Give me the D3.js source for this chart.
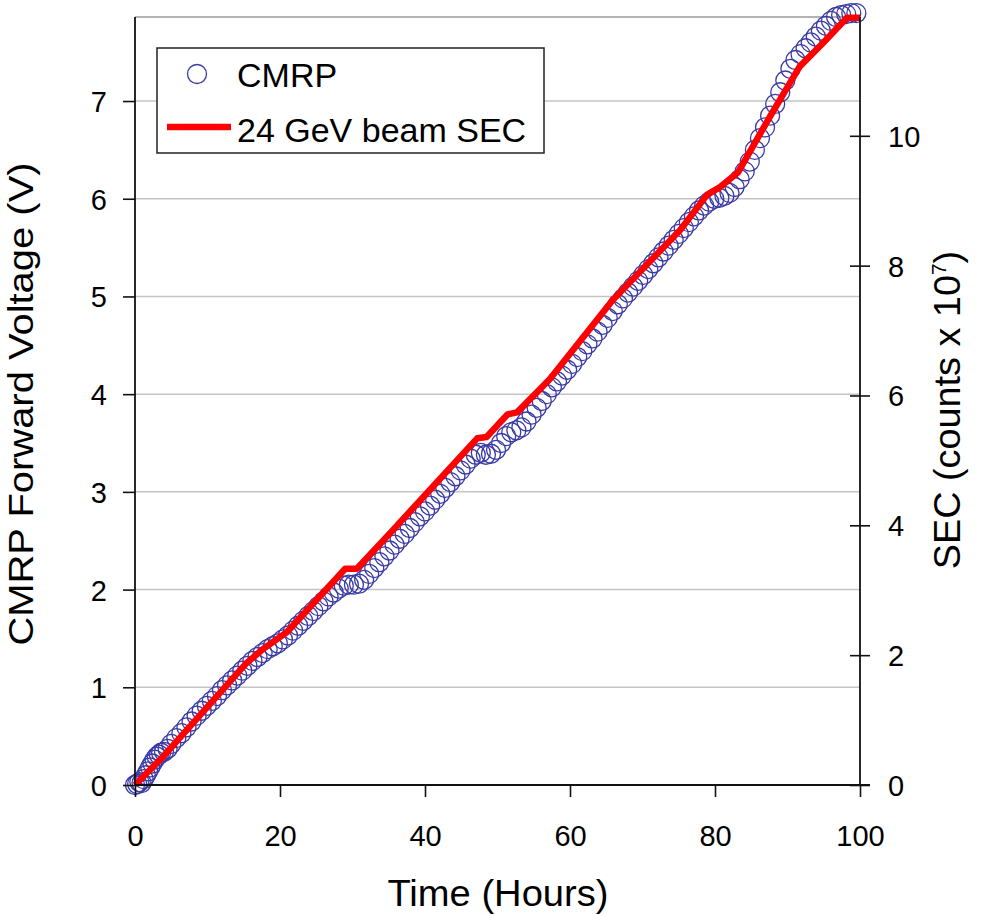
<!DOCTYPE html>
<html>
<head>
<meta charset="utf-8">
<script src="https://cdn.jsdelivr.net/npm/d3@7"></script>
<style>
  body { margin: 0; background: #fff; }
  text { font-family: "Liberation Sans", Arial, sans-serif; fill: #000; }
</style>
</head>
<body>
<div id="chart"></div>
<script>
// CMRP forward voltage (left axis)
var cmrpTime = [0.0, 0.3, 0.6, 0.9, 1.2, 1.5, 1.8, 2.1, 2.4, 2.7, 3.0, 3.3, 3.6, 4.0, 4.5, 5.0,
  5.7, 6.4, 7.1, 7.8, 8.5, 9.2, 9.9, 10.6, 11.3, 12.0, 12.7, 13.4, 14.1, 14.8, 15.5, 16.2,
  16.9, 17.6, 18.3, 19.0, 19.7, 20.4, 21.1, 21.8, 22.5, 23.2, 23.9, 24.6, 25.3, 26.0, 26.7,
  27.4, 28.1, 28.8, 29.5, 30.2, 30.9, 31.6, 32.3, 33.0, 33.7, 34.4, 35.1, 35.8, 36.5, 37.2,
  37.9, 38.6, 39.3, 40.0, 40.7, 41.4, 42.1, 42.8, 43.5, 44.2, 44.9, 45.6, 46.3, 47.0, 47.7,
  48.4, 49.1, 49.8, 50.5, 51.2, 51.9, 52.6, 53.3, 54.0, 54.7, 55.4, 56.1, 56.8, 57.5, 58.2,
  58.9, 59.6, 60.3, 61.0, 61.7, 62.4, 63.1, 63.8, 64.5, 65.2, 65.9, 66.6, 67.3, 68.0, 68.7,
  69.4, 70.1, 70.8, 71.5, 72.2, 72.9, 73.6, 74.3, 75.0, 75.7, 76.4, 77.1, 77.8, 78.5, 79.2,
  79.9, 80.6, 81.3, 82.0, 82.7, 83.4, 84.1, 84.8, 85.5, 86.2, 86.9, 87.6, 88.3, 89.0, 89.7,
  90.4, 91.1, 91.8, 92.5, 93.2, 93.9, 94.6, 95.3, 96.0, 96.7, 97.4, 98.1, 98.8, 99.5];
var cmrpVolt = [0.00, 0.01, 0.03, 0.02, 0.06, 0.10, 0.14, 0.18, 0.22, 0.26, 0.29, 0.31, 0.33, 0.34, 0.37, 0.42,
  0.48, 0.53, 0.59, 0.65, 0.71, 0.76, 0.81, 0.86, 0.91, 0.97, 1.02, 1.07, 1.12, 1.17, 1.22, 1.27,
  1.31, 1.35, 1.39, 1.42, 1.45, 1.49, 1.53, 1.58, 1.63, 1.68, 1.73, 1.78, 1.83, 1.88, 1.93,
  1.97, 2.01, 2.04, 2.05, 2.05, 2.06, 2.10, 2.16, 2.22, 2.28, 2.34, 2.40, 2.46, 2.52, 2.57,
  2.63, 2.69, 2.75, 2.80, 2.86, 2.92, 2.98, 3.04, 3.10, 3.16, 3.22, 3.28, 3.34, 3.38, 3.40,
  3.38, 3.39, 3.43, 3.50, 3.57, 3.61, 3.63, 3.66, 3.72, 3.79, 3.86, 3.93, 4.00, 4.07, 4.13,
  4.19, 4.25, 4.31, 4.38, 4.44, 4.51, 4.57, 4.64, 4.71, 4.78, 4.85, 4.92, 4.98, 5.04, 5.10,
  5.16, 5.22, 5.28, 5.34, 5.40, 5.46, 5.52, 5.58, 5.64, 5.70, 5.76, 5.82, 5.88, 5.93, 5.97,
  6.00, 6.01, 6.03, 6.06, 6.12, 6.20, 6.28, 6.38, 6.50, 6.62, 6.73, 6.85, 6.97, 7.09, 7.21,
  7.33, 7.42, 7.48, 7.54, 7.60, 7.66, 7.72, 7.77, 7.82, 7.86, 7.88, 7.89, 7.90, 7.90];

// 24 GeV beam SEC (right axis, counts x 10^7)
var secTime = [0, 3.9, 15.4, 17.5, 21, 29, 30.6, 35.6, 47.2, 48.5, 51.4, 52.7, 57.2, 65.9,
  75.2, 78.9, 80.7, 83.2, 87.6, 91.7, 94.9, 98.2, 100];
var secCounts = [0, 0.44, 1.88, 2.08, 2.36, 3.33, 3.33, 3.93, 5.34, 5.36, 5.71, 5.74, 6.25, 7.47,
  8.55, 9.09, 9.21, 9.44, 10.30, 11.07, 11.43, 11.82, 11.82];

var xTicks = [0, 20, 40, 60, 80, 100];
var leftTicks = [0, 1, 2, 3, 4, 5, 6, 7];
var rightTicks = [0, 2, 4, 6, 8, 10];

var width = 983, height = 916;
var plot = { left: 135, right: 860, top: 17, bottom: 785 };

var svg = d3.select("#chart")
  .append("svg")
  .attr("width", width)
  .attr("height", height);

var xScale = d3.scaleLinear().domain([0, 100]).range([plot.left, plot.right]);
var yLeft = d3.scaleLinear().domain([0, 7.86]).range([plot.bottom, plot.top]);
var yRight = d3.scaleLinear().domain([0, 11.83]).range([plot.bottom, plot.top]);

// gridlines
svg.append("g")
  .selectAll("line")
  .data(leftTicks.slice(1))
  .enter()
  .append("line")
  .attr("x1", plot.left)
  .attr("x2", plot.right)
  .attr("y1", function(d) { return yLeft(d); })
  .attr("y2", function(d) { return yLeft(d); })
  .attr("stroke", "#c4c4c4")
  .attr("stroke-width", 1.5);

// top border
svg.append("line")
  .attr("x1", plot.left).attr("x2", plot.right)
  .attr("y1", plot.top).attr("y2", plot.top)
  .attr("stroke", "#9a9a9a")
  .attr("stroke-width", 1.5);

// CMRP circles
var cmrp = cmrpTime.map(function(t, i) { return { t: t, v: cmrpVolt[i] }; });
svg.append("g")
  .selectAll("circle")
  .data(cmrp)
  .enter()
  .append("circle")
  .attr("cx", function(d) { return xScale(d.t); })
  .attr("cy", function(d) { return yLeft(d.v); })
  .attr("r", 9.5)
  .attr("fill", "none")
  .attr("stroke", "#3a3aa6")
  .attr("stroke-width", 1.3);

// SEC line
var sec = secTime.map(function(t, i) { return { t: t, c: secCounts[i] }; });
var line = d3.line()
  .x(function(d) { return xScale(d.t); })
  .y(function(d) { return yRight(d.c); });

svg.append("path")
  .datum(sec)
  .attr("d", line)
  .attr("fill", "none")
  .attr("stroke", "#ff0000")
  .attr("stroke-width", 6.5)
  .attr("stroke-linejoin", "round");

// Axes
var axisFont = 29;

var gx = svg.append("g")
  .attr("transform", "translate(0," + plot.bottom + ")")
  .call(d3.axisBottom(xScale).tickValues(xTicks).tickSize(12).tickSizeOuter(0));
gx.selectAll("text").attr("y", 61).attr("dy", 0).style("font-size", axisFont + "px");

var gl = svg.append("g")
  .attr("transform", "translate(" + plot.left + ",0)")
  .call(d3.axisLeft(yLeft).tickValues(leftTicks).tickSize(12).tickSizeOuter(0));
gl.selectAll("text").attr("x", -28).attr("dy", "0.36em").style("font-size", axisFont + "px");

var gr = svg.append("g")
  .attr("transform", "translate(" + plot.right + ",0)")
  .call(d3.axisRight(yRight).tickValues(rightTicks).tickSize(10).tickSizeOuter(0));
gr.selectAll(".tick line").attr("x1", -10).attr("x2", 10);
gr.selectAll("text").attr("x", 28).attr("dy", "0.36em").style("font-size", axisFont + "px");

[gx, gl, gr].forEach(function(g) {
  g.select(".domain").attr("stroke", "#111").attr("stroke-width", 1.8);
  g.selectAll(".tick line").attr("stroke", "#111").attr("stroke-width", 1.6);
  g.selectAll("text").attr("fill", "#000").attr("font-family", null);
});
gl.select(".domain").attr("d", "M0," + plot.top + "V" + plot.bottom);
gr.select(".domain").attr("d", "M0," + plot.top + "V" + plot.bottom);
gx.select(".domain").attr("d", "M" + plot.left + ",0H" + (plot.right + 10));

// Axis titles
svg.append("text")
  .attr("transform", "translate(498,906) scale(1.06,1)")
  .attr("text-anchor", "middle")
  .style("font-size", "36px")
  .text("Time (Hours)");

svg.append("text")
  .attr("transform", "translate(33,404) rotate(-90) scale(1.11,1)")
  .attr("text-anchor", "middle")
  .style("font-size", "36px")
  .text("CMRP Forward Voltage (V)");

var rt = svg.append("text")
  .attr("transform", "translate(960,410) rotate(-90) scale(1.05,1)")
  .attr("text-anchor", "middle")
  .style("font-size", "36px");
rt.append("tspan").text("SEC (counts x 10");
rt.append("tspan").attr("dy", -14).style("font-size", "20px").text("7");
rt.append("tspan").attr("dy", 14).text(")");

// Legend
var legend = svg.append("g");
legend.append("rect")
  .attr("x", 157).attr("y", 48)
  .attr("width", 387).attr("height", 105)
  .attr("fill", "#fff")
  .attr("stroke", "#222")
  .attr("stroke-width", 1.5);
legend.append("circle")
  .attr("cx", 197).attr("cy", 74).attr("r", 9.5)
  .attr("fill", "none")
  .attr("stroke", "#3a3aa6")
  .attr("stroke-width", 1.3);
legend.append("line")
  .attr("x1", 167).attr("x2", 231)
  .attr("y1", 127).attr("y2", 127)
  .attr("stroke", "#ff0000")
  .attr("stroke-width", 6.5);
legend.append("text")
  .attr("x", 237).attr("y", 87)
  .style("font-size", "34px")
  .text("CMRP");
legend.append("text")
  .attr("x", 237).attr("y", 142)
  .style("font-size", "34px")
  .text("24 GeV beam SEC");
</script>
</body>
</html>
